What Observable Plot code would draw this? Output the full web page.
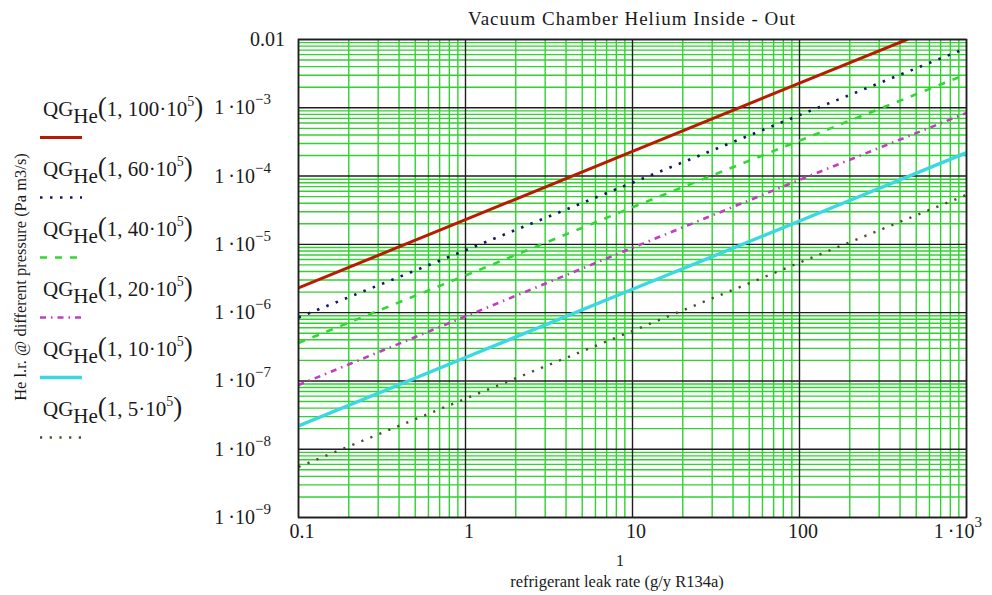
<!DOCTYPE html>
<html>
<head>
<meta charset="utf-8">
<script src="https://cdn.jsdelivr.net/npm/d3@7"></script>
<script src="https://cdn.jsdelivr.net/npm/@observablehq/plot@0.6"></script>
<style>
  html, body { margin: 0; padding: 0; background: #fff; }
  #chart { position: relative; width: 992px; height: 595px; }
  svg text { font-family: "Liberation Serif", "DejaVu Serif", serif; fill: #1a1a1a; }
</style>
</head>
<body>
<div id="chart"></div>
<script>
// ---------- data ----------
const leakRate = [0.1, 1, 10, 100, 1000];
const redLeakRate = [0.1, 1, 10, 100, 440];
const qg100 = [2.3e-6, 2.3e-5, 2.3e-4, 2.3e-3, 1.0e-2];
const qg60 = [8.5e-7, 8.2e-6, 8.0e-5, 7.8e-4, 7.5e-3];
const qg40 = [3.6e-7, 3.5e-6, 3.5e-5, 3.3e-4, 3.1e-3];
const qg20 = [8.7e-8, 8.8e-7, 8.9e-6, 8.8e-5, 8.4e-4];
const qg10 = [2.2e-8, 2.2e-7, 2.2e-6, 2.2e-5, 2.2e-4];
const qg5 = [5.5e-9, 5.5e-8, 5.4e-7, 5.4e-6, 5.3e-5];
const seriesPressure = ["100", "60", "40", "20", "10", "5"];

const xTicks = [0.1, 1, 10, 100, 1000];
const xTickLabels = ["0.1", "1", "10", "100", "1\u2009·10"];
const xTickExponents = ["", "", "", "", "3"];
const yTicks = [1e-9, 1e-8, 1e-7, 1e-6, 1e-5, 1e-4, 1e-3, 1e-2];
const yTickLabels = ["1\u2009·10", "1\u2009·10", "1\u2009·10", "1\u2009·10", "1\u2009·10", "1\u2009·10", "1\u2009·10", "0.01"];
const yTickExponents = ["−9", "−8", "−7", "−6", "−5", "−4", "−3", ""];

const titleText = "Vacuum Chamber Helium Inside - Out";
const xLabelTop = "1";
const xLabelText = "refrigerant leak rate (g/y R134a)";
const yLabelText = "He l.r. @ different pressure (Pa m3/s)";

// ---------- styles ----------
const seriesXs = [redLeakRate, leakRate, leakRate, leakRate, leakRate, leakRate];
const seriesYs = [qg100, qg60, qg40, qg20, qg10, qg5];
const seriesStyles = [
  {stroke: "#b81c00", strokeWidth: 3, dash: null, cap: "round"},
  {stroke: "#141460", strokeWidth: 2.6, dash: "2.5,7.5", cap: "butt"},
  {stroke: "#33d633", strokeWidth: 2.6, dash: "7,8", cap: "butt"},
  {stroke: "#c23cc2", strokeWidth: 2.6, dash: "6,5,1.5,5", cap: "butt"},
  {stroke: "#3ad8e2", strokeWidth: 3.4, dash: null, cap: "round"},
  {stroke: "#55482a", strokeWidth: 2.4, dash: "2.2,7.5", cap: "butt"}
];

const rows = seriesYs.map((ys, i) => ys.map((v, j) => ({x: seriesXs[i][j], y: v})));

const xMinor = d3.scaleLog().domain([0.1, 1000]).ticks().filter(v => !xTicks.some(t => Math.abs(t - v) / t < 1e-9));
const yMinor = d3.scaleLog().domain([1e-9, 1e-2]).ticks().filter(v => !yTicks.some(t => Math.abs(t - v) / t < 1e-9));

const gridGreen = "#2fd22f";

const plot = Plot.plot({
  width: 992,
  height: 595,
  marginLeft: 298,
  marginRight: 26,
  marginTop: 39,
  marginBottom: 78,
  style: {background: "#fff"},
  x: {type: "log", domain: [0.1, 1000], axis: null},
  y: {type: "log", domain: [1e-9, 1e-2], axis: null},
  marks: [
    Plot.ruleX(xMinor, {stroke: gridGreen, strokeWidth: 1.4}),
    Plot.ruleY(yMinor, {stroke: gridGreen, strokeWidth: 1.4}),
    Plot.ruleX(xTicks, {stroke: "#1e1e1e", strokeWidth: 1.4}),
    Plot.ruleY(yTicks, {stroke: "#1e1e1e", strokeWidth: 1.4}),
    ...rows.map((r, i) => Plot.line(r, {
      x: "x", y: "y",
      stroke: seriesStyles[i].stroke,
      strokeWidth: seriesStyles[i].strokeWidth,
      strokeDasharray: seriesStyles[i].dash,
      strokeLinecap: seriesStyles[i].cap,
      clip: true
    })),
    Plot.frame({stroke: "#1e1e1e", strokeWidth: 1.6})
  ]
});

document.getElementById("chart").appendChild(plot);

const svg = d3.select(plot);
const xs = plot.scale("x");
const ys = plot.scale("y");
const plotLeft = xs.apply(0.1), plotRight = xs.apply(1000);
const plotTop = ys.apply(1e-2), plotBottom = ys.apply(1e-9);
const cx = (plotLeft + plotRight) / 2;

// title
svg.append("text")
  .attr("x", cx).attr("y", 25)
  .attr("text-anchor", "middle")
  .style("font-size", "19px").style("letter-spacing", "1px")
  .text(titleText);

// y tick labels
const yl = svg.append("g");
yTicks.forEach((t, i) => {
  const yy = ys.apply(t);
  const hasExp = yTickExponents[i] !== "";
  const txt = yl.append("text")
    .attr("x", hasExp ? plotLeft - 27 : plotLeft - 13)
    .attr("y", yy + 7)
    .attr("text-anchor", "end")
    .style("font-size", "20px");
  txt.append("tspan").text(yTickLabels[i]);
  if (hasExp) {
    txt.append("tspan").attr("dy", -10).style("font-size", "15px").text(yTickExponents[i]);
  }
});

// x tick labels
const xl = svg.append("g");
xTicks.forEach((t, i) => {
  const xx = xs.apply(t);
  const hasExp = xTickExponents[i] !== "";
  const txt = xl.append("text")
    .attr("x", hasExp ? xx + 16 : xx + 4)
    .attr("y", plotBottom + 21)
    .attr("text-anchor", hasExp ? "end" : "middle")
    .style("font-size", "20px");
  txt.append("tspan").text(xTickLabels[i]);
  if (hasExp) {
    txt.append("tspan").attr("dy", -11).style("font-size", "15px").text(xTickExponents[i]);
  }
});

// x axis labels
svg.append("text").attr("x", 620).attr("y", 566).attr("text-anchor", "middle")
  .style("font-size", "16px").text(xLabelTop);
svg.append("text").attr("x", 617).attr("y", 587).attr("text-anchor", "middle")
  .style("font-size", "16.5px").text(xLabelText);

// y axis label
svg.append("text")
  .attr("transform", `translate(26,${277}) rotate(-90)`)
  .attr("text-anchor", "middle")
  .style("font-size", "16.5px")
  .text(yLabelText);

// legend
const lg = svg.append("g");
seriesPressure.forEach((p, i) => {
  const by = 116 + i * 60;
  const t = lg.append("text").attr("x", 43).attr("y", by)
    .attr("text-anchor", "start").style("font-size", "21px");
  t.append("tspan").text("QG");
  t.append("tspan").attr("dy", 7).text("He");
  t.append("tspan").attr("dy", -7).style("font-size", "27px").text("(");
  t.append("tspan").text("1, " + p + "·10");
  t.append("tspan").attr("dy", -10).style("font-size", "14px").text("5");
  t.append("tspan").attr("dy", 10).style("font-size", "27px").text(")");
  const ly = by + 21.5;
  const st = seriesStyles[i];
  lg.append("line")
    .attr("x1", 40).attr("x2", 82).attr("y1", ly).attr("y2", ly)
    .attr("stroke", st.stroke)
    .attr("stroke-width", st.strokeWidth)
    .attr("stroke-dasharray", st.dash)
    .attr("stroke-linecap", "butt");
});
</script>
</body>
</html>
